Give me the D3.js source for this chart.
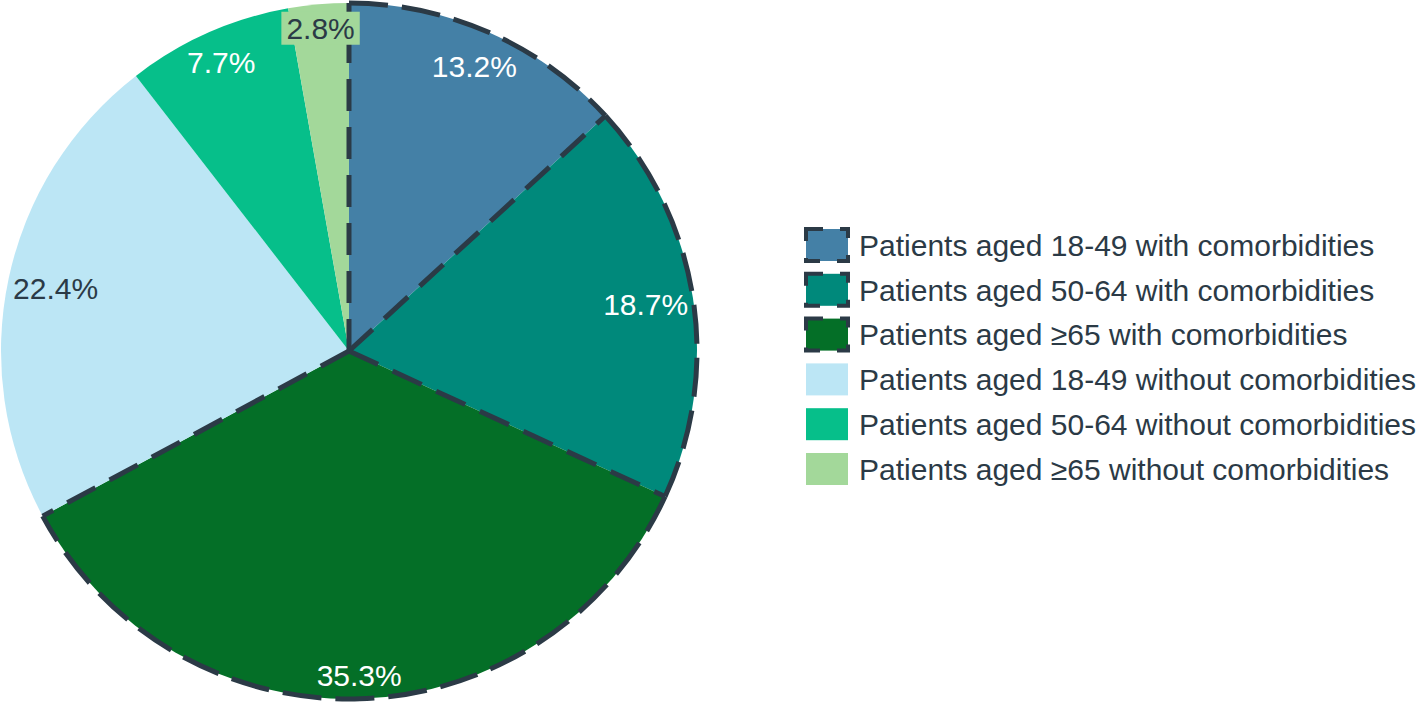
<!DOCTYPE html>
<html>
<head>
<meta charset="utf-8">
<script src="https://cdn.jsdelivr.net/npm/d3@7"></script>
<style>
  body { margin: 0; background: #fff; }
  svg { display: block; font-family: "Liberation Sans", Arial, sans-serif; }
</style>
</head>
<body>
<svg class="chart"></svg>
<script>
// data, clockwise from 12 o'clock
const categories = [
  "Patients aged 18-49 with comorbidities",
  "Patients aged 50-64 with comorbidities",
  "Patients aged \u226565 with comorbidities",
  "Patients aged 18-49 without comorbidities",
  "Patients aged 50-64 without comorbidities",
  "Patients aged \u226565 without comorbidities"
];
const shares = [13.2, 18.7, 35.3, 22.4, 7.7, 2.8];
const withComorbidities = [true, true, true, false, false, false];

const sliceColors = ["#4480a6", "#00897b", "#046f27", "#bce6f5", "#06bf8a", "#a3d89a"];
const labelColors = ["#fff", "#fff", "#fff", "#2b3a46", "#fff", "#2b3a46"];
const boxedLabel = [false, false, false, false, false, true];
const dark = "#2b3a46";

const width = 1417, height = 704;
const cx = 349, cy = 351, radius = 348;

const svg = d3.select(".chart")
    .attr("width", width)
    .attr("height", height);

const g = svg.append("g")
    .attr("transform", "translate(" + cx + "," + cy + ")");

const pie = d3.pie().sort(null).value(d => d);
const arcs = pie(shares);
const arc = d3.arc().innerRadius(0).outerRadius(radius);

// fills
g.selectAll(".slice")
  .data(arcs)
  .enter().append("path")
    .attr("class", "slice")
    .attr("d", arc)
    .attr("fill", (d, i) => sliceColors[i]);

// dashed outline on the "with comorbidities" slices, each edge drawn once
const dashed = arcs.filter((d, i) => withComorbidities[i]);
const edgeAngles = Array.from(new Set(dashed.flatMap(d => [d.startAngle, d.endAngle])));
const edges = [];
edgeAngles.forEach(a => {
  const p = d3.path();
  p.moveTo(0, 0);
  p.lineTo(radius * Math.sin(a), -radius * Math.cos(a));
  edges.push({d: p.toString(), dash: "32,16"});
});
dashed.forEach(d => {
  const p = d3.path();
  p.moveTo(radius * Math.sin(d.startAngle), -radius * Math.cos(d.startAngle));
  p.arc(0, 0, radius, d.startAngle - Math.PI / 2, d.endAngle - Math.PI / 2);
  edges.push({d: p.toString(), dash: "39,14"});
});

g.selectAll(".outline")
  .data(edges)
  .enter().append("path")
    .attr("class", "outline")
    .attr("d", d => d.d)
    .attr("fill", "none")
    .attr("stroke", dark)
    .attr("stroke-width", 5)
    .attr("stroke-dasharray", d => d.dash);

// labels: pushed out along the mid angle until the box nearly touches the rim
const pad = 3;
const labels = g.selectAll(".lbl")
  .data(arcs)
  .enter().append("g")
    .attr("class", "lbl");

labels.append("text")
    .attr("text-anchor", "middle")
    .attr("dy", "0.35em")
    .style("font-size", "30px")
    .attr("fill", (d, i) => labelColors[i])
    .text(d => d.data.toFixed(1) + "%");

labels.each(function(d, i) {
  const sel = d3.select(this);
  const bb = sel.select("text").node().getBBox();
  const a = (d.startAngle + d.endAngle) / 2;
  const hw = bb.width / 2, hh = bb.height / 2;
  let lo = 0, hi = radius;
  for (let k = 0; k < 40; k++) {
    const m = (lo + hi) / 2;
    const x = m * Math.sin(a), y = -m * Math.cos(a);
    let far = 0;
    [[-1, -1], [1, -1], [-1, 1], [1, 1]].forEach(c => {
      far = Math.max(far, Math.hypot(x + c[0] * hw, y + c[1] * hh));
    });
    if (far > radius - pad) hi = m; else lo = m;
  }
  const x = lo * Math.sin(a), y = -lo * Math.cos(a);
  sel.attr("transform", "translate(" + x + "," + y + ")");
  if (boxedLabel[i]) {
    sel.insert("rect", "text")
      .attr("x", bb.x - 5)
      .attr("y", bb.y)
      .attr("width", bb.width + 10)
      .attr("height", bb.height)
      .attr("fill", sliceColors[i]);
  }
});

// legend
const legend = svg.selectAll(".legend")
    .data(categories)
  .enter().append("g")
    .attr("class", "legend")
    .attr("transform", (d, i) => "translate(806," + (245 + i * 44.8) + ")");

legend.append("rect")
    .attr("x", 0)
    .attr("y", -16)
    .attr("width", 42)
    .attr("height", 32)
    .attr("fill", (d, i) => sliceColors[i])
    .attr("stroke", (d, i) => withComorbidities[i] ? dark : "none")
    .attr("stroke-width", 4)
    .attr("stroke-dasharray", "17,17");

legend.append("text")
    .attr("x", 53)
    .attr("dy", "0.36em")
    .style("font-size", "30px")
    .attr("fill", dark)
    .text(d => d);
</script>
</body>
</html>
